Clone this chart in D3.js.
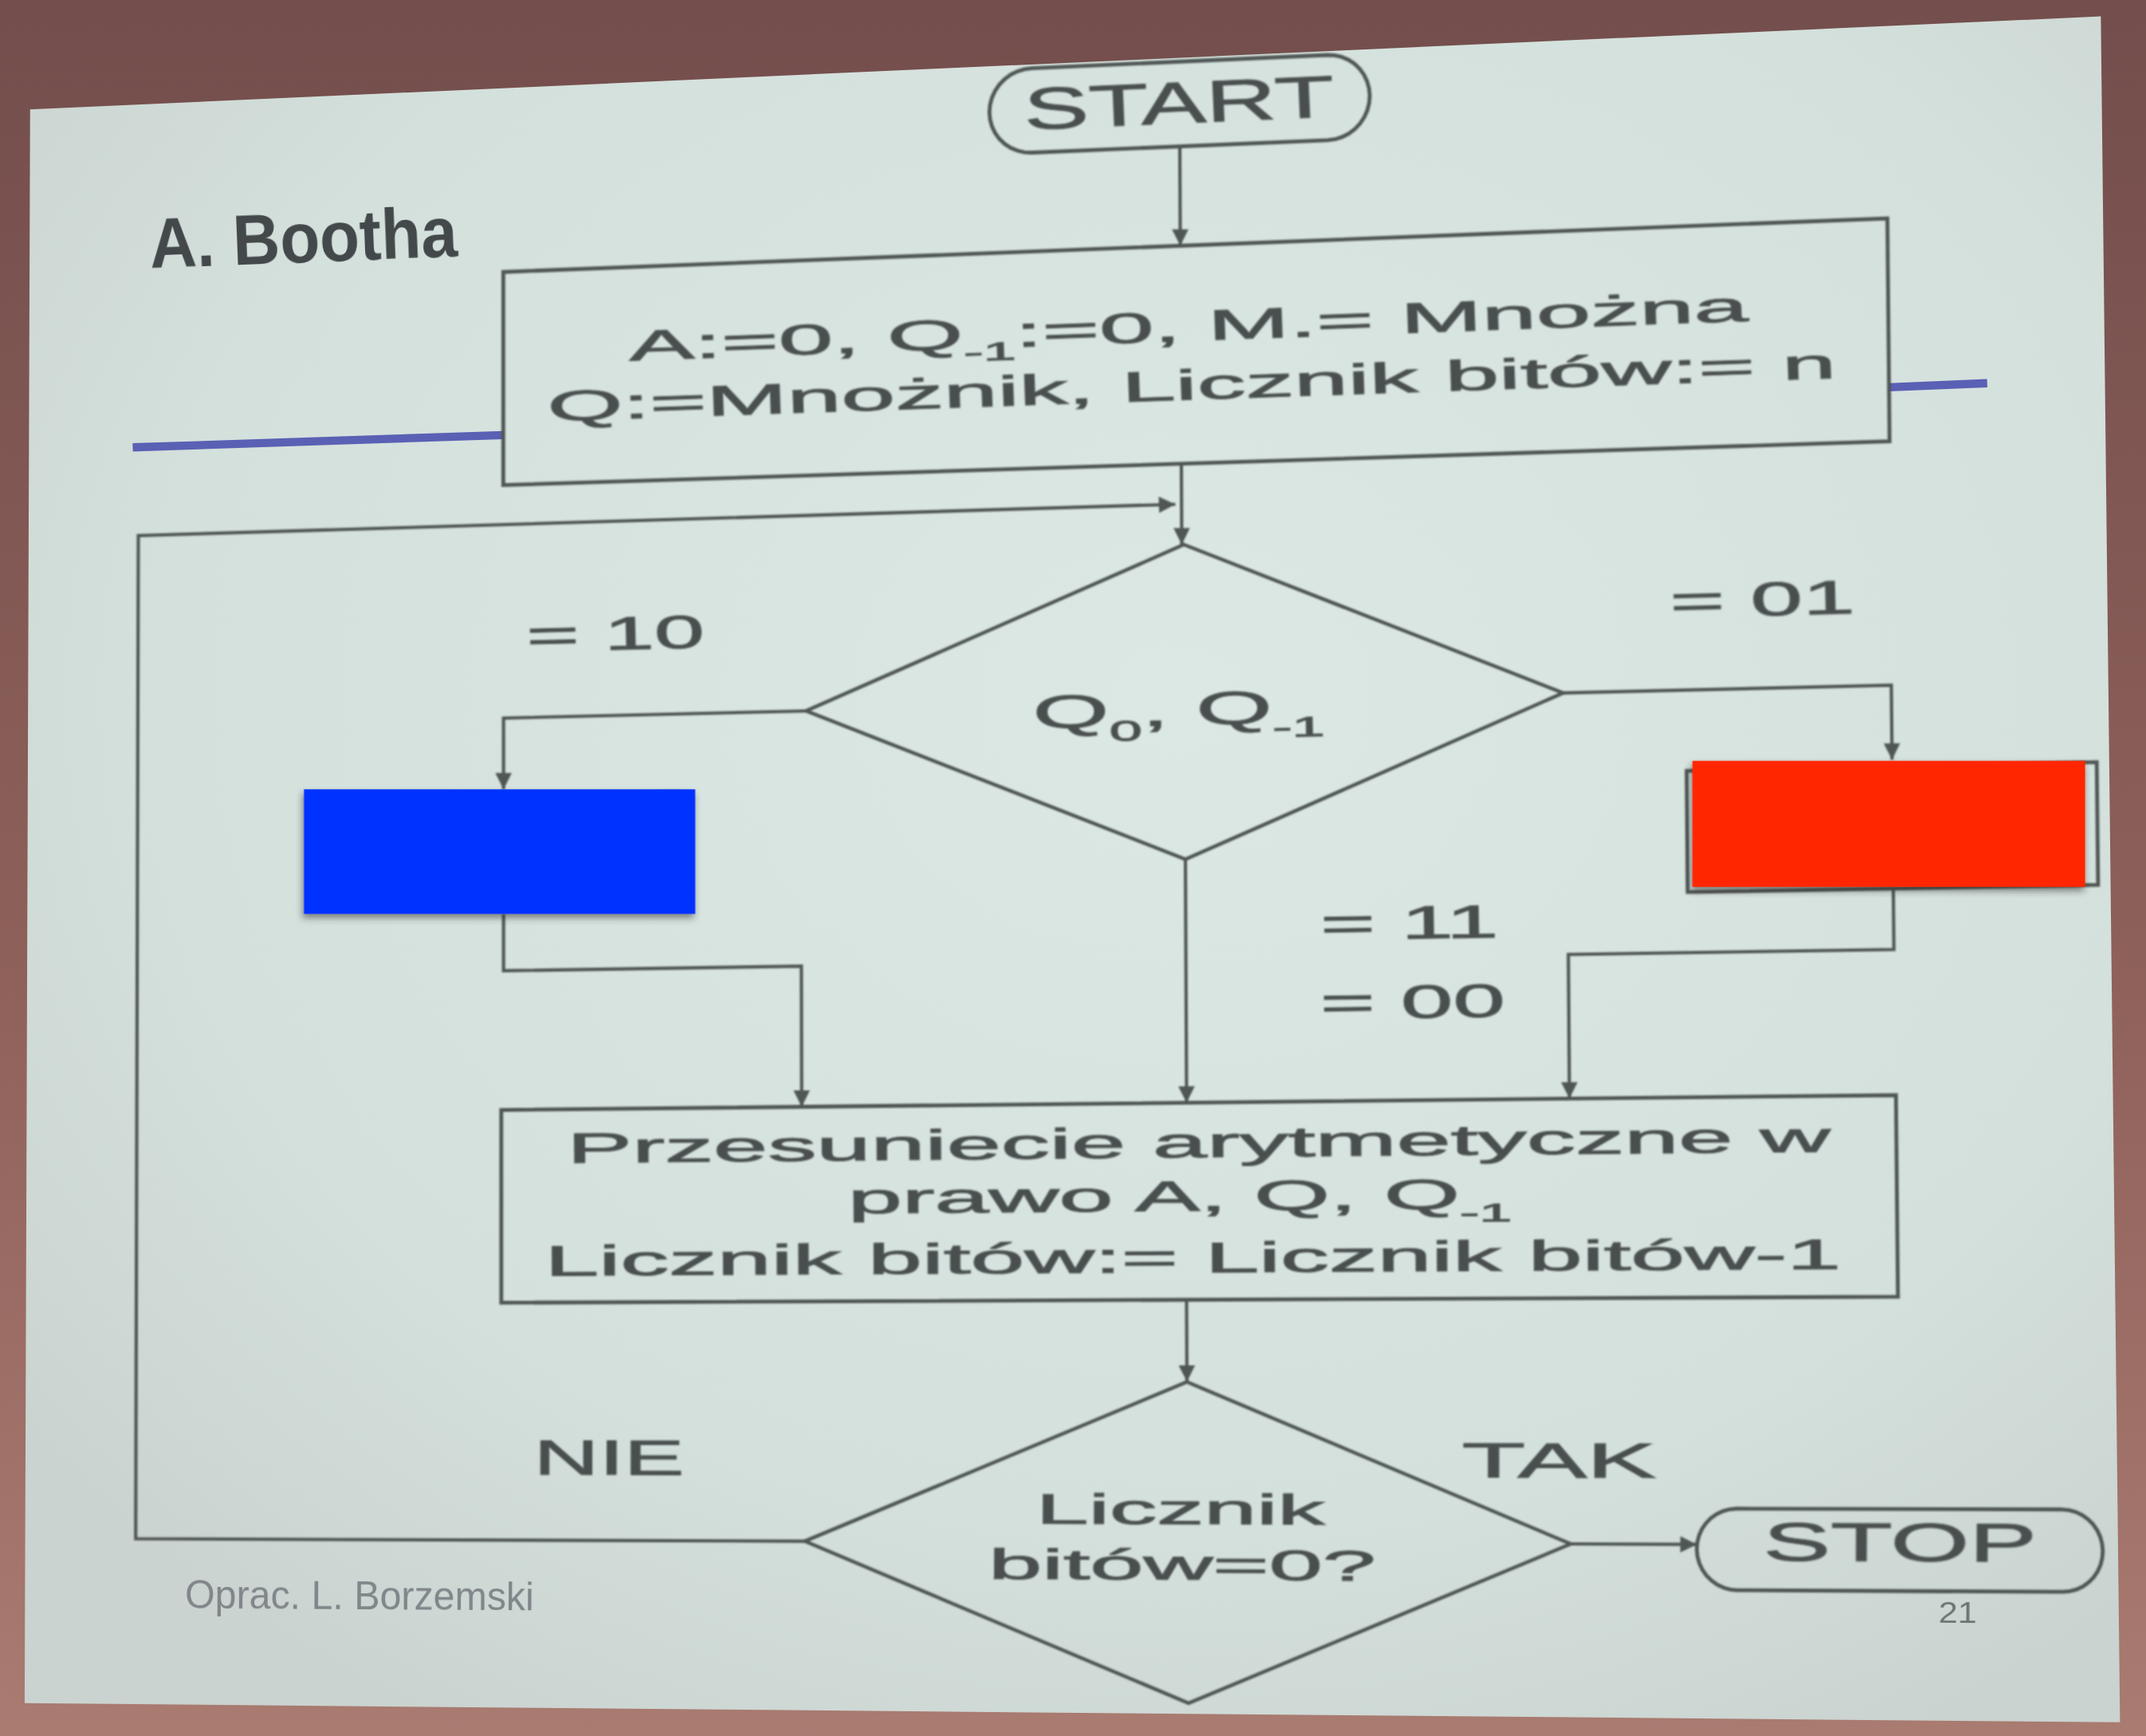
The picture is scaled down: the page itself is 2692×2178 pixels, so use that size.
<!DOCTYPE html>
<html>
<head>
<meta charset="utf-8">
<script src="https://cdn.jsdelivr.net/npm/d3@7"></script>
<style>
  html, body { margin: 0; padding: 0; background: #7a5250; overflow: hidden; }
</style>
</head>
<body>
<svg id="chart"></svg>
<script>
// Photo of a slide: Booth's multiplication flowchart.
// Everything is laid out in slide fractions (u across, v down)
// and then warped onto the photographed (keystoned) slide.

var photoW = 1568, photoH = 1269;

// where the slide corners sit in the photo
var cornerX = [22, 1535, 1549, 18];   // TL, TR, BR, BL
var cornerY = [80, 12, 1259, 1245];

// terminals (START / STOP)
var terminals = [
  { name: "START", u: 0.555,  v: 0.0279, w: 0.1836, h: 0.0512 },
  { name: "STOP",  u: 0.8957, v: 0.8995, w: 0.194,  h: 0.0484 }
];

// process boxes
var boxes = [
  { id: "init",  u0: 0.2285, u1: 0.896, v0: 0.1135, v1: 0.2451 },
  { id: "opL",   u0: 0.14,   u1: 0.312, v0: 0.437,  v1: 0.505 },
  { id: "opR",   u0: 0.797,  u1: 0.994, v0: 0.437,  v1: 0.509 },
  { id: "shift", u0: 0.2275, u1: 0.896, v0: 0.631,  v1: 0.75 }
];

// decisions
var diamonds = [
  { id: "test",  u: 0.556,  v: 0.389,  hw: 0.182, hh: 0.095 },
  { id: "check", u: 0.5555, v: 0.8966, hw: 0.183, hh: 0.097 }
];

// flow lines, each ends in an arrow
var flows = [
  [[0.555, 0.0535], [0.555, 0.1135]],
  [[0.555, 0.2451], [0.555, 0.2939]],
  [[0.3725, 0.8966], [0.0528, 0.8966], [0.0528, 0.2695], [0.552, 0.2695]],
  [[0.374, 0.389], [0.2286, 0.389], [0.2286, 0.433]],
  [[0.738, 0.389], [0.8957, 0.389], [0.8957, 0.433]],
  [[0.2286, 0.51], [0.2286, 0.545], [0.3715, 0.545], [0.3715, 0.631]],
  [[0.556, 0.484], [0.556, 0.631]],
  [[0.8957, 0.509], [0.8957, 0.545], [0.7395, 0.545], [0.7395, 0.631]],
  [[0.5555, 0.75], [0.5555, 0.7995]],
  [[0.7385, 0.8966], [0.7987, 0.8966]]
];

// blue rule of the slide template (hidden behind the first box)
var ruleSegments = [
  [[0.05, 0.2142], [0.2285, 0.2142]],
  [[0.896, 0.2132], [0.9433, 0.2127]]
];

// flowchart texts: _{..} is a subscript
var chartTexts = [
  { t: "START", u: 0.555, v: 0.0394, size: 43, width: 227 },
  { t: "A:=0, Q_{-1}:=0, M.= Mnożna", u: 0.559, v: 0.171, size: 31, width: 818 },
  { t: "Q:=Mnożnik, Licznik bitów:= n", u: 0.5603, v: 0.2066, size: 31, width: 942 },
  { t: "Q_{0}, Q_{-1}", u: 0.5532, v: 0.403, size: 34, width: 213 },
  { t: "= 10", u: 0.2826, v: 0.3486, size: 34, width: 130 },
  { t: "= 01", u: 0.8342, v: 0.3461, size: 34, width: 135 },
  { t: "= 11", u: 0.6634, v: 0.5341, size: 34, width: 130 },
  { t: "= 00", u: 0.6647, v: 0.5816, size: 34, width: 135 },
  { t: "Przesuniecie arytmetyczne w", u: 0.5617, v: 0.664, size: 31, width: 923 },
  { t: "prawo A, Q, Q_{-1}", u: 0.5525, v: 0.6963, size: 31, width: 485 },
  { t: "Licznik bitów:= Licznik bitów-1", u: 0.5586, v: 0.7334, size: 31, width: 947 },
  { t: "Licznik", u: 0.552, v: 0.8854, size: 31, width: 211 },
  { t: "bitów=0?", u: 0.5527, v: 0.919, size: 31, width: 283 },
  { t: "NIE", u: 0.279, v: 0.8561, size: 36, width: 110 },
  { t: "TAK", u: 0.7331, v: 0.857, size: 36, width: 142 },
  { t: "STOP", u: 0.8957, v: 0.906, size: 40, width: 200 }
];

// slide texts (title, footer)
var slideTexts = [
  { t: "A. Bootha", u: 0.0583, v: 0.1026, size: 52, width: 225, weight: "bold", color: "#43484a" },
  { t: "Oprac. L. Borzemski", u: 0.0764, v: 0.9396, size: 29, width: 255, weight: "normal", color: "#80868a" },
  { t: "21", u: 0.923, v: 0.942, size: 22, width: 28, weight: "normal", color: "#6e7474" }
];

// coloured patches pasted over the photo
var covers = [
  { u0: 0.1327, v0: 0.4303, u1: 0.3206, v1: 0.5119, color: "#0433ff" },
  { u0: 0.7998, v0: 0.4311, u1: 0.9878, v1: 0.51,   color: "#ff2600" }
];

var lineColor = "#4f5654", textColor = "#4a504f";
var chartFont = "'Liberation Sans', Arial, sans-serif";
var titleFont = "'Liberation Sans Narrow', 'Arial Narrow', 'Liberation Sans', sans-serif";

// edge scales of the keystoned slide
var topX = d3.scaleLinear().domain([0, 1]).range([cornerX[0], cornerX[1]]);
var topY = d3.scaleLinear().domain([0, 1]).range([cornerY[0], cornerY[1]]);
var botX = d3.scaleLinear().domain([0, 1]).range([cornerX[3], cornerX[2]]);
var botY = d3.scaleLinear().domain([0, 1]).range([cornerY[3], cornerY[2]]);
// flat slide in pixels, used for round shapes
var flatU = d3.scaleLinear().domain([0, 1]).range([0, 1515]);
var flatV = d3.scaleLinear().domain([0, 1]).range([0, 1210]);

function warp(u, v) {
  return [
    d3.interpolateNumber(topX(u), botX(u))(v),
    d3.interpolateNumber(topY(u), botY(u))(v)
  ];
}

var svg = d3.select("#chart")
  .attr("width", 2692)
  .attr("height", 2178)
  .attr("viewBox", "0 0 " + photoW + " " + photoH)
  .attr("preserveAspectRatio", "none");

var defs = svg.append("defs");

var bg = defs.append("linearGradient").attr("id", "bg")
  .attr("x1", 0).attr("y1", 0).attr("x2", 0).attr("y2", 1);
bg.append("stop").attr("offset", "0%").attr("stop-color", "#734e4c");
bg.append("stop").attr("offset", "55%").attr("stop-color", "#8e605a");
bg.append("stop").attr("offset", "100%").attr("stop-color", "#a97b71");

var sl = defs.append("radialGradient").attr("id", "slide")
  .attr("cx", "55%").attr("cy", "40%").attr("r", "70%");
sl.append("stop").attr("offset", "0%").attr("stop-color", "#dce8e4");
sl.append("stop").attr("offset", "70%").attr("stop-color", "#d4e0dc");
sl.append("stop").attr("offset", "100%").attr("stop-color", "#cad3cf");

defs.append("filter").attr("id", "soft")
  .append("feGaussianBlur").attr("stdDeviation", 0.7);

var sh = defs.append("filter").attr("id", "shadow")
  .attr("x", "-10%").attr("y", "-10%").attr("width", "130%").attr("height", "140%");
sh.append("feDropShadow").attr("dx", -1).attr("dy", 3).attr("stdDeviation", 2.5)
  .attr("flood-color", "#333").attr("flood-opacity", 0.55);

defs.append("marker").attr("id", "arrow")
  .attr("viewBox", "0 0 10 10").attr("refX", 10).attr("refY", 5)
  .attr("markerWidth", 13).attr("markerHeight", 12)
  .attr("markerUnits", "userSpaceOnUse").attr("orient", "auto")
  .append("path").attr("d", "M0,0L10,5L0,10Z").attr("fill", lineColor);

// background and slide
svg.append("rect").attr("width", photoW).attr("height", photoH).attr("fill", "url(#bg)");

var line = d3.line();
var slideCorners = [[0, 0], [1, 0], [1, 1], [0, 1]].map(function (c) { return warp(c[0], c[1]); });
svg.append("path")
  .attr("d", line(slideCorners) + "Z")
  .attr("fill", "url(#slide)");

// template rule
svg.append("g").selectAll("path").data(ruleSegments).join("path")
  .attr("d", function (d) { return line(d.map(function (p) { return warp(p[0], p[1]); })); })
  .attr("stroke", "#5a60b4").attr("stroke-width", 6).attr("fill", "none");

var chart = svg.append("g").attr("filter", "url(#soft)");

// boxes
chart.append("g").selectAll("path").data(boxes).join("path")
  .attr("d", function (d) {
    return line([warp(d.u0, d.v0), warp(d.u1, d.v0), warp(d.u1, d.v1), warp(d.u0, d.v1)]) + "Z";
  })
  .attr("fill", "none").attr("stroke", lineColor).attr("stroke-width", 2.8);

// diamonds
chart.append("g").selectAll("path").data(diamonds).join("path")
  .attr("d", function (d) {
    return line([warp(d.u, d.v - d.hh), warp(d.u + d.hw, d.v), warp(d.u, d.v + d.hh), warp(d.u - d.hw, d.v)]) + "Z";
  })
  .attr("fill", "none").attr("stroke", lineColor).attr("stroke-width", 2.6);

// terminals: stadium shape built in flat pixels then warped
function stadium(d) {
  var cx = flatU(d.u), cy = flatV(d.v);
  var a = flatU(d.w) / 2, b = flatV(d.h) / 2, pts = [];
  d3.range(0, 181, 10).forEach(function (deg) {
    var t = (deg - 90) * Math.PI / 180;
    pts.push([cx + a - b + b * Math.cos(t), cy + b * Math.sin(t)]);
  });
  d3.range(180, 361, 10).forEach(function (deg) {
    var t = (deg - 90) * Math.PI / 180;
    pts.push([cx - a + b + b * Math.cos(t), cy + b * Math.sin(t)]);
  });
  return pts.map(function (p) { return warp(flatU.invert(p[0]), flatV.invert(p[1])); });
}
chart.append("g").selectAll("path").data(terminals).join("path")
  .attr("d", function (d) { return line(stadium(d)) + "Z"; })
  .attr("fill", "none").attr("stroke", lineColor).attr("stroke-width", 2.8);

// flow lines
chart.append("g").selectAll("path").data(flows).join("path")
  .attr("d", function (d) { return line(d.map(function (p) { return warp(p[0], p[1]); })); })
  .attr("fill", "none").attr("stroke", lineColor).attr("stroke-width", 2.4)
  .attr("marker-end", "url(#arrow)");

// text helper: keeps real text, rotates with the slide, stretches to the photo width
function putText(g, d, font, color, weight, anchor, thick) {
  var p = warp(d.u, d.v), q = warp(d.u + 0.01, d.v);
  var ang = Math.atan2(q[1] - p[1], q[0] - p[0]) * 180 / Math.PI;
  var txt = g.append("text")
    .attr("font-family", font).attr("font-size", d.size)
    .attr("font-weight", weight).attr("fill", color)
    .attr("stroke", color).attr("stroke-width", thick);
  var lifted = false;
  d.t.split(/(_\{[^}]*\})/).filter(function (s) { return s.length; }).forEach(function (s) {
    var ts = txt.append("tspan");
    if (s.indexOf("_{") === 0) {
      ts.text(s.slice(2, -1)).attr("font-size", d.size * 0.6).attr("dy", d.size * 0.3);
      lifted = true;
    } else {
      ts.text(s);
      if (lifted) { ts.attr("dy", -d.size * 0.3); lifted = false; }
    }
  });
  var w = txt.node().getComputedTextLength();
  var k = d.width / w;
  var x0 = anchor === "start" ? 0 : -w / 2;
  txt.attr("transform", "translate(" + p[0] + "," + p[1] + ") rotate(" + ang + ") scale(" + k + ",1) translate(" + x0 + ",0)");
}

chartTexts.forEach(function (d) { putText(chart, d, chartFont, textColor, "normal", "middle", 0.6); });
slideTexts.forEach(function (d) {
  putText(svg, d, titleFont, d.color, d.weight, d.t === "21" ? "middle" : "start", 0);
});

// pasted colour patches (flat on the photo, not on the slide)
svg.append("g").selectAll("rect").data(covers).join("rect")
  .attr("x", function (d) { return warp(d.u0, d.v0)[0]; })
  .attr("y", function (d) { return warp(d.u0, d.v0)[1]; })
  .attr("width", function (d) { return warp(d.u1, d.v1)[0] - warp(d.u0, d.v0)[0]; })
  .attr("height", function (d) { return warp(d.u1, d.v1)[1] - warp(d.u0, d.v0)[1]; })
  .attr("fill", function (d) { return d.color; })
  .attr("filter", "url(#shadow)");
</script>
</body>
</html>
